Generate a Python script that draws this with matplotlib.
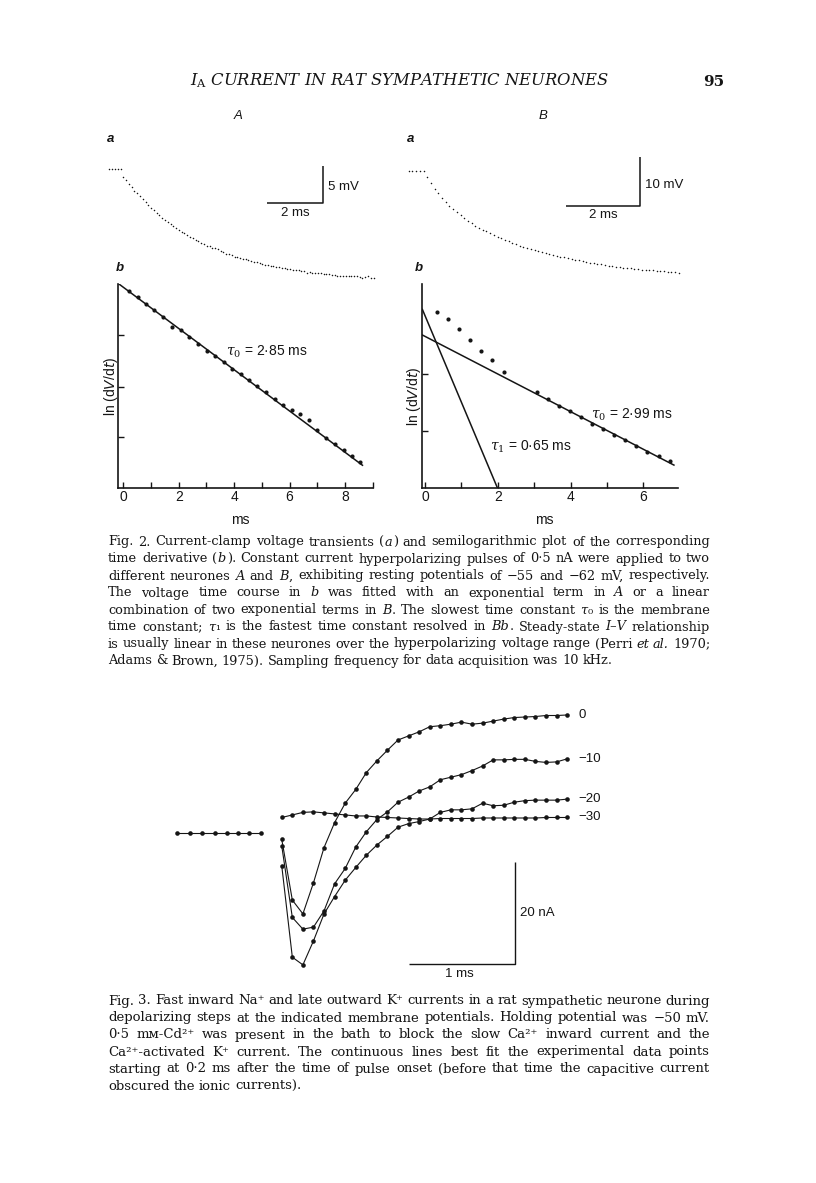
import numpy as np
import matplotlib
matplotlib.use('Agg')
import matplotlib.pyplot as plt
from matplotlib.transforms import IdentityTransform

W, H = 816, 1183
INK = '#151515'
SANS = 'Liberation Sans'
SERIF = 'DejaVu Serif'
plt.rcParams['font.family'] = [SANS, 'DejaVu Sans']

# ---------------- Fig. 2a : voltage transients (10 kHz sampling) ----------------
t_a_A = np.round(np.arange(-0.5, 9.05, 0.1), 1)
v_a_A = [0.0, 0.0, 0.0, 0.0, 0.0,
         -1.0, -1.5, -2.0, -2.4, -2.9, -3.3, -3.7, -4.1, -4.5, -4.9,
         -5.3, -5.6, -5.9, -6.3, -6.6, -6.9, -7.2, -7.5, -7.7, -8.0,
         -8.3, -8.5, -8.7, -9.0, -9.2, -9.4, -9.6, -9.8, -10.0, -10.2,
         -10.4, -10.5, -10.7, -10.8, -10.9, -11.2, -11.3, -11.5, -11.6, -11.7,
         -11.9, -12.0, -12.1, -12.2, -12.3, -12.4, -12.5, -12.6, -12.7, -12.8,
         -12.9, -13.0, -13.1, -13.2, -13.2, -13.3, -13.4, -13.5, -13.5, -13.6,
         -13.6, -13.7, -13.7, -13.8, -13.9, -13.9, -14.1, -14.0, -14.1, -14.1,
         -14.2, -14.1, -14.3, -14.3, -14.3, -14.4, -14.4, -14.5, -14.5, -14.5,
         -14.5, -14.6, -14.6, -14.5, -14.6, -14.7, -14.8, -14.7, -14.6, -14.8, -14.8]

t_a_B = np.round(np.arange(-0.4, 6.95, 0.1), 1)
v_a_B = [0.0, 0.0, 0.0, 0.0,
         0.0, -1.3, -2.5, -3.6, -4.6, -5.5, -6.3, -7.1, -7.8, -8.5,
         -9.1, -9.6, -10.2, -10.7, -11.2, -11.6, -12.0, -12.4, -12.8, -13.2,
         -13.5, -13.8, -14.1, -14.4, -14.7, -15.0, -15.3, -15.5, -15.7, -16.0,
         -16.2, -16.4, -16.6, -16.8, -17.0, -17.2, -17.4, -17.6, -17.7, -17.9,
         -18.0, -18.2, -18.3, -18.5, -18.6, -18.8, -18.9, -19.0, -19.1, -19.2,
         -19.4, -19.5, -19.6, -19.7, -19.8, -19.9, -19.9, -20.0, -20.1, -20.2,
         -20.3, -20.4, -20.4, -20.5, -20.6, -20.6, -20.7, -20.8, -20.8, -20.9]

# ---------------- Fig. 2b : ln(dV/dt) ----------------
t_ln_A = [0.22, 0.52, 0.82, 1.12, 1.44, 1.77, 2.08, 2.38, 2.70, 3.01, 3.31, 3.62, 3.93, 4.24,
          4.54, 4.84, 5.16, 5.46, 5.76, 6.08, 6.39, 6.69, 6.99, 7.32, 7.63, 7.95, 8.24, 8.54]
ln_A = [3.36, 3.25, 3.14, 3.03, 2.91, 2.75, 2.69, 2.57, 2.45, 2.34, 2.25, 2.14, 2.03, 1.94,
        1.85, 1.74, 1.63, 1.52, 1.42, 1.34, 1.26, 1.17, 0.99, 0.86, 0.75, 0.65, 0.55, 0.44]
t_ln_B = [0.34, 0.64, 0.93, 1.23, 1.54, 1.85, 2.16, 3.07, 3.38, 3.68, 3.99, 4.29, 4.59, 4.89,
          5.20, 5.50, 5.81, 6.11, 6.43, 6.73]
ln_B = [3.14, 3.00, 2.83, 2.64, 2.44, 2.28, 2.07, 1.71, 1.58, 1.47, 1.37, 1.26, 1.14, 1.05,
        0.95, 0.86, 0.75, 0.65, 0.57, 0.49]
# fitted exponentials: (tau ms, intercept at t=0, t start, t end)
fit_A0 = (2.85, 3.42, -0.16, 8.63)
fit_B0 = (2.99, 2.70, -0.07, 6.84)
fit_B1 = (0.65, 3.07, -0.07, 2.00)

# ---------------- Fig. 3 : membrane currents (nA) ----------------
t_hold = [-0.79, -0.67, -0.55, -0.43, -0.32, -0.21, -0.11, 0.0]
i_hold = [0.0, 0.0, 0.0, 0.0, 0.0, 0.0, 0.0, 0.0]
t_step = np.round(np.arange(0.2, 2.95, 0.1), 1)
i_0 = [-1.2, -13.1, -15.8, -9.7, -2.8, 2.1, 5.9, 8.6, 11.9, 14.2, 16.3, 18.3, 19.1, 19.9,
       20.9, 21.1, 21.4, 21.8, 21.4, 21.6, 22.0, 22.4, 22.7, 22.8, 22.9, 23.1, 23.1, 23.2]
i_m10 = [-2.5, -16.5, -18.8, -18.4, -15.2, -9.9, -6.9, -2.7, 0.3, 2.7, 4.2, 6.1, 7.1, 8.3,
         9.1, 10.5, 11.0, 11.5, 12.3, 13.2, 14.4, 14.4, 14.5, 14.5, 14.1, 13.9, 14.0, 14.6]
i_m20 = [-6.4, -24.3, -25.8, -21.1, -15.8, -12.4, -9.2, -6.7, -4.3, -2.3, -0.6, 1.2, 1.9, 2.3,
         2.8, 4.1, 4.6, 4.6, 4.8, 5.9, 5.4, 5.5, 6.1, 6.4, 6.5, 6.5, 6.5, 6.7]
i_m30 = [3.1, 3.6, 4.1, 4.2, 4.0, 3.8, 3.6, 3.4, 3.4, 3.2, 3.1, 3.0, 2.9, 2.8,
         2.8, 2.9, 2.9, 2.9, 2.9, 3.0, 3.0, 3.0, 3.0, 3.0, 3.0, 3.1, 3.1, 3.1]
step_labels = ['0', '\u221210', '\u221220', '\u221230']

cap2 = [
    "Fig. 2. Current-clamp voltage transients (_a_) and semilogarithmic plot of the corresponding",
    "time derivative (_b_). Constant current hyperpolarizing pulses of 0\u00b75 nA were applied to two",
    "different neurones _A_ and _B_, exhibiting resting potentials of \u221255 and \u221262 mV, respectively.",
    "The voltage time course in _b_ was fitted with an exponential term in _A_ or a linear",
    "combination of two exponential terms in _B_. The slowest time constant _\u03c4_\u2080 is the membrane",
    "time constant; _\u03c4_\u2081 is the fastest time constant resolved in _Bb_. Steady-state _I\u2013V_ relationship",
    "is usually linear in these neurones over the hyperpolarizing voltage range (Perri _et_ _al._ 1970;",
    "Adams & Brown, 1975). Sampling frequency for data acquisition was 10 kHz.",
]
cap3 = [
    "Fig. 3. Fast inward Na\u207a and late outward K\u207a currents in a rat sympathetic neurone during",
    "depolarizing steps at the indicated membrane potentials. Holding potential was \u221250 mV.",
    "0\u00b75 m\u043c-Cd\u00b2\u207a was present in the bath to block the slow Ca\u00b2\u207a inward current and the",
    "Ca\u00b2\u207a-activated K\u207a current. The continuous lines best fit the experimental data points",
    "starting at 0\u00b72 ms after the time of pulse onset (before that time the capacitive current",
    "obscured the ionic currents).",
]

fig = plt.figure(figsize=(W / 100, H / 100), dpi=100)
fig.patch.set_facecolor('white')


def add_ax(x0, y0, x1, y1):
    ax = fig.add_axes([x0 / W, 1 - y1 / H, (x1 - x0) / W, (y1 - y0) / H])
    ax.patch.set_alpha(0)
    return ax


def ftext(x, y, s, **kw):
    kw.setdefault('color', INK)
    return fig.text(x / W, 1 - y / H, s, **kw)


# header
ftext(190, 85.5, r"$I_{\rm A}$ CURRENT IN RAT SYMPATHETIC NEURONES", family=SERIF,
      style='italic', fontsize=11.8, va='baseline', math_fontfamily='dejavuserif')
ftext(703, 85.5, "95", family=SERIF, fontsize=11, fontweight='bold', va='baseline')
ftext(238, 116, "A", style='italic', fontsize=9.5, ha='center', va='center')
ftext(543, 116, "B", style='italic', fontsize=9.5, ha='center', va='center')
for x, y, s in [(111, 139, 'a'), (411, 139, 'a'), (120, 268, 'b'), (419, 268, 'b')]:
    ftext(x, y, s, style='italic', fontweight='bold', fontsize=9.5, ha='center', va='center')

# ---- Fig 2a traces ----
axa = add_ax(100, 150, 385, 290)
axa.set_xlim(-0.838, 9.41)
axa.set_ylim(-16.47, 2.63)
axa.axis('off')
axa.plot(t_a_A, v_a_A, 'o', ms=1.1, color=INK, mec='none')
axa.plot([5.18, 7.18, 7.18], [-4.6, -4.6, 0.4], color=INK, lw=1.1, solid_capstyle='butt')
axa.text(7.36, -2.4, "5 mV", fontsize=9.5, color=INK, va='center')
axa.text(6.2, -6.0, "2 ms", fontsize=9.5, color=INK, ha='center', va='center')

axb = add_ax(400, 150, 690, 290)
axb.set_xlim(-0.635, 7.2)
axb.set_ylim(-24.4, 4.31)
axb.axis('off')
axb.plot(t_a_B, v_a_B, 'o', ms=1.1, color=INK, mec='none')
axb.plot([3.85, 5.85, 5.85], [-7.2, -7.2, 2.8], color=INK, lw=1.1, solid_capstyle='butt')
axb.text(5.99, -2.9, "10 mV", fontsize=9.5, color=INK, va='center')
axb.text(4.85, -9.1, "2 ms", fontsize=9.5, color=INK, ha='center', va='center')


# ---- Fig 2b semilog plots ----
def ln_axes(box, xlim, ylim, xmax_tick, yticks):
    ax = add_ax(*box)
    ax.set_xlim(xlim)
    ax.set_ylim(ylim)
    for s in ['top', 'right']:
        ax.spines[s].set_visible(False)
    for s in ['left', 'bottom']:
        ax.spines[s].set_linewidth(1.2)
        ax.spines[s].set_color(INK)
    ticks = list(range(0, xmax_tick + 1))
    ax.set_xticks(ticks)
    ax.set_xticklabels([str(v) if v % 2 == 0 else '' for v in ticks])
    ax.set_yticks(yticks)
    ax.set_yticklabels([])
    ax.tick_params(direction='in', length=4, width=1, colors=INK, labelsize=10, pad=1)
    return ax


def fit_line(ax, fit):
    tau, y0, ta, tb = fit
    tt = np.array([ta, tb])
    ax.plot(tt, y0 - tt / tau, color=INK, lw=1.1)


ax2A = ln_axes((118.3, 284, 373, 488.3), (-0.18, 9.01), (0, 3.475), 9, [0.87, 1.73, 2.61])
fit_line(ax2A, fit_A0)
ax2A.plot(t_ln_A, ln_A, 'o', ms=3.0, color=INK, mec='none')
ax2A.text(3.7, 2.32, r"$\tau_0$ = 2" + "\u00b7" + "85 ms", fontsize=10,
          color=INK, va='center', math_fontfamily='dejavuserif')

ax2B = ln_axes((422.3, 284, 678.3, 488.3), (-0.073, 6.96), (0, 3.63), 6, [1.02, 2.03])
fit_line(ax2B, fit_B0)
fit_line(ax2B, fit_B1)
ax2B.plot(t_ln_B, ln_B, 'o', ms=3.0, color=INK, mec='none')
ax2B.text(4.55, 1.31, r"$\tau_0$ = 2" + "\u00b7" + "99 ms", fontsize=10, color=INK,
          va='center', math_fontfamily='dejavuserif')
ax2B.text(1.78, 0.73, r"$\tau_1$ = 0" + "\u00b7" + "65 ms", fontsize=10, color=INK,
          va='center', math_fontfamily='dejavuserif')

for x, y in [(111.5, 386), (414, 396)]:
    ftext(x, y, r"ln (d$V$/d$t$)", fontsize=10, rotation=90, ha='center', va='center',
          math_fontfamily='dejavusans')
ftext(240, 520, "ms", fontsize=10, ha='center', va='center')
ftext(544, 520, "ms", fontsize=10, ha='center', va='center')

# ---- Fig 3 ----
ax3 = add_ax(160, 700, 620, 985)
ax3.set_xlim(-0.952, 3.40)
ax3.set_ylim(-29.75, 26.14)
ax3.axis('off')
ax3.plot(t_hold, i_hold, '-o', lw=0.8, ms=3.3, color=INK, mec='none')
for cur in [i_m30, i_m20, i_m10, i_0]:
    ax3.plot(t_step, cur, '-o', lw=0.8, ms=3.3, color=INK, mec='none')
for lab, cur in zip(step_labels, [i_0, i_m10, i_m20, i_m30]):
    ax3.text(3.01, cur[-1], lab, fontsize=9.5, color=INK, va='center')
ax3.plot([1.407, 2.407, 2.407], [-25.63, -25.63, -5.63], color=INK, lw=1.0,
         solid_capstyle='butt')
ax3.text(2.45, -15.6, "20 nA", fontsize=9.5, color=INK, va='center')
ax3.text(1.88, -27.6, "1 ms", fontsize=9.5, color=INK, ha='center', va='center')

# ---- justified captions ----
renderer = fig.canvas.get_renderer()


def seg_words(line):
    words = []
    for w in line.split(' '):
        parts = w.split('_')
        words.append([(p, i % 2 == 1) for i, p in enumerate(parts) if p])
    return words


def make(seg, size):
    s, it = seg
    return fig.text(0, 0, s, fontsize=size, family=SERIF, style='italic' if it else 'normal',
                    color=INK, transform=IdentityTransform(), va='baseline', ha='left')


def wid(a):
    return a.get_window_extent(renderer).width


def paragraph(lines, x0, x1, base_y, pitch, size):
    avail = x1 - x0
    # shrink if a line cannot fit with normal spacing
    worst = 0.0
    for line in lines[:-1]:
        arts = [[make(s, size) for s in w] for w in seg_words(line)]
        nat = sum(wid(a) + 0.6 for w in arts for a in w) + (len(arts) - 1) * 0.24 * size * 100 / 72
        worst = max(worst, nat / avail)
        for w in arts:
            for a in w:
                a.remove()
    size = size / worst
    for i, line in enumerate(lines):
        arts = [[make(s, size) for s in w] for w in seg_words(line)]
        ww = [sum(wid(a) + 0.6 for a in w) - 0.6 for w in arts]
        if i == len(lines) - 1:
            gap = 0.3 * size * 100 / 72
        else:
            gap = (avail - sum(ww)) / (len(ww) - 1)
        x = x0
        y = H - (base_y + i * pitch)
        for w, wl in zip(arts, ww):
            xx = x
            for a in w:
                a.set_position((xx, y))
                xx += wid(a) + 0.6
            x += wl + gap


paragraph(cap2, 108, 710, 545.5, 17, 10)
paragraph(cap3, 108, 710, 1004.5, 17, 10)

fig.savefig('out.png', dpi=100, facecolor='white')
